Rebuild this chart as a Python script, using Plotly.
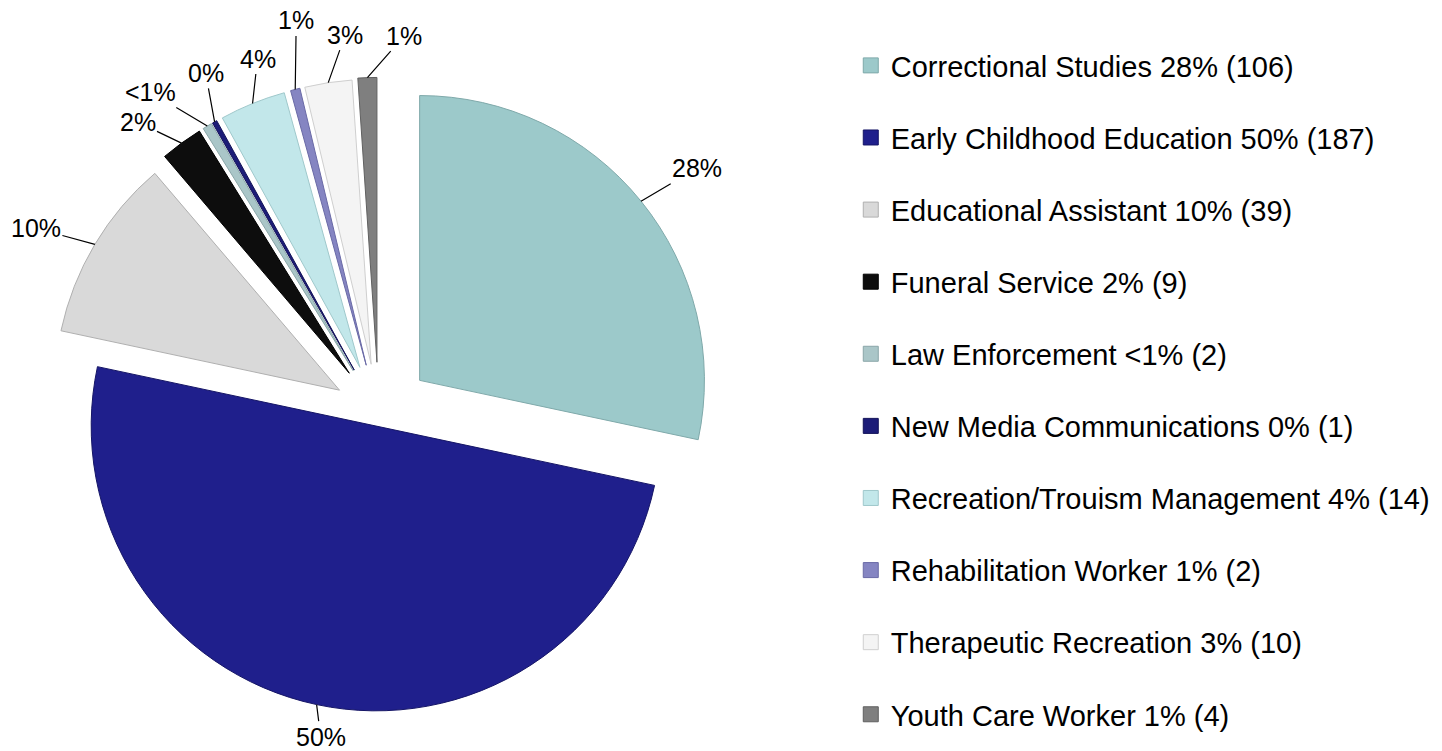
import math
import plotly.graph_objects as go

# datos del grafico
programas = [
    'Correctional Studies',
    'Early Childhood Education',
    'Educational Assistant',
    'Funeral Service',
    'Law Enforcement',
    'New Media Communications',
    'Recreation/Trouism Management',
    'Rehabilitation Worker',
    'Therapeutic Recreation',
    'Youth Care Worker',
]
cantidades = [106, 187, 39, 9, 2, 1, 14, 2, 10, 4]
etiquetas = ['28%', '50%', '10%', '2%', '<1%', '0%', '4%', '1%', '3%', '1%']

# estilo
colores = ['#9cc9ca', '#1f1f8c', '#d9d9d9', '#0d0d0d', '#aac6c8',
           '#1c1c78', '#c2e7ea', '#8585c2', '#f4f4f4', '#7f7f7f']
bordes = ['#7fa9aa', '#151566', '#b0b0b0', '#000000', '#8aa6a8',
          '#121258', '#9fc8cb', '#6a6aa6', '#cfcfcf', '#606060']
separacion = [0.185, 0.045, 0.16, 0.175, 0.175, 0.175, 0.175, 0.175, 0.175, 0.18]
# desplazamiento (px) de cada etiqueta respecto al borde de su rebanada
desp_etiqueta = [(56, -33), (4, 32), (-59, -16), (-44, -21), (-57, -34),
                 (-9, -49), (5, -45), (1, -69), (17, -48), (37, -42)]

FUENTE = 'Liberation Sans, Arial, sans-serif'
ANCHO, ALTO = 1442, 751
DOM_X = [0.0199, 0.5053]
DOM_Y = [0.0, 0.8988]

fig = go.Figure()

fig.add_trace(go.Pie(
    labels=programas,
    values=cantidades,
    textinfo='none',
    sort=False,
    direction='clockwise',
    rotation=0,
    pull=separacion,
    marker=dict(colors=colores, line=dict(color=bordes, width=1)),
    showlegend=False,
    hoverinfo='label+value+percent',
    domain=dict(x=DOM_X, y=DOM_Y),
))

# geometria del pastel igual que plotly (margenes en 0)
caja_w = ANCHO * (DOM_X[1] - DOM_X[0])
caja_h = ALTO * (DOM_Y[1] - DOM_Y[0])
radio = min(caja_w, caja_h) / (2 + 2 * max(separacion))
cx = ANCHO * (DOM_X[0] + DOM_X[1]) / 2
cy = ALTO * (1 - DOM_Y[0]) - caja_h / 2

total = sum(cantidades)
acumulado = 0
for n, txt, pull, (ax, ay) in zip(cantidades, etiquetas, separacion, desp_etiqueta):
    ang = 2 * math.pi * (acumulado + n / 2) / total
    acumulado += n
    dist = radio * (1 + pull)
    px = cx + dist * math.sin(ang)
    py = cy - dist * math.cos(ang)
    fig.add_annotation(
        x=px / ANCHO, y=1 - py / ALTO, xref='paper', yref='paper',
        text=txt, showarrow=True, arrowhead=0, arrowwidth=1.2,
        arrowcolor='#000000', ax=ax, ay=ay, standoff=0,
        font=dict(size=25, color='#000000', family=FUENTE),
    )

# leyenda: una entrada por programa
for nombre, n, txt, col, borde in zip(programas, cantidades, etiquetas, colores, bordes):
    fig.add_trace(go.Scatter(
        x=[None], y=[None],
        mode='markers',
        name=f'{nombre} {txt} ({n})',
        legendgroup=nombre,
        marker=dict(symbol='square', size=15, color=col,
                    line=dict(color=borde, width=1)),
        showlegend=True,
    ))

fig.update_layout(
    width=ANCHO,
    height=ALTO,
    margin=dict(l=0, r=0, t=0, b=0, autoexpand=False),
    paper_bgcolor='white',
    plot_bgcolor='white',
    font=dict(family=FUENTE, size=29, color='#000000'),
    xaxis=dict(visible=False),
    yaxis=dict(visible=False),
    legend=dict(
        x=0.590, y=0.9467, xanchor='left', yanchor='top',
        traceorder='grouped',
        tracegroupgap=31.4,
        font=dict(size=29, family=FUENTE, color='#000000'),
        bgcolor='rgba(0,0,0,0)',
    ),
)

# quitar el margen por defecto del body para que la figura quede en (0, 0)
fig.write_html('out.html', config={'displayModeBar': False},
               post_script="document.body.style.margin='0';")
